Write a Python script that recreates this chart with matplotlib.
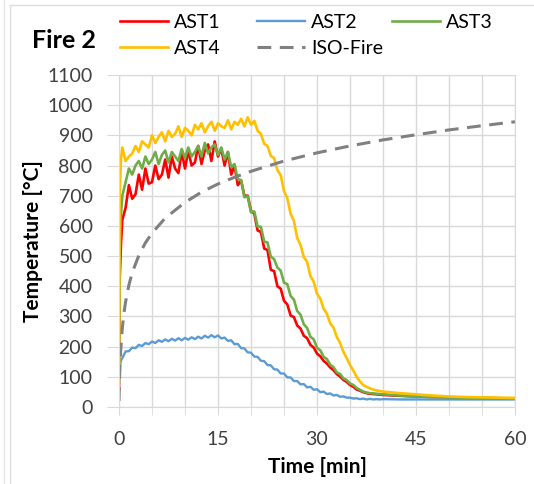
import matplotlib
matplotlib.use("Agg")
import matplotlib.pyplot as plt
from matplotlib.lines import Line2D

# ---------------- data ----------------
time_min = [0, 0.1, 0.3,
            0.5, 1, 1.5, 2, 2.5, 3, 3.5, 4, 4.5, 5, 5.5, 6, 6.5, 7, 7.5, 8, 8.5, 9, 9.5, 10,
            10.5, 11, 11.5, 12, 12.5, 13, 13.5, 14, 14.5, 15, 15.5, 16, 16.5, 17, 17.5, 18, 18.5, 19, 19.5, 20,
            20.5, 21, 21.5, 22, 22.5, 23, 23.5, 24, 24.5, 25, 25.5, 26, 26.5, 27, 27.5, 28, 28.5, 29, 29.5, 30,
            30.5, 31, 31.5, 32, 32.5, 33, 33.5, 34, 34.5, 35, 35.5, 36, 36.5, 37, 37.5, 38, 38.5, 39, 39.5, 40,
            42.5, 45, 47.5, 50, 52.5, 55, 57.5, 60]

ast1 = [60, 420, 540,
        620, 660, 735, 690, 705, 770, 720, 790, 740, 745, 800, 755, 770, 820, 760, 830, 790, 775, 845, 790,
        850, 800, 810, 865, 805, 850, 870, 815, 880, 830, 855, 800, 845, 770, 800, 735, 750, 700, 700, 650,
        640, 585, 580, 525, 520, 455, 450, 400, 392, 352, 340, 303, 298, 270, 260, 236, 228, 206, 197, 177,
        168, 153, 144, 131, 122, 109, 101, 90, 83, 73, 67, 58, 54, 49, 46, 44, 43, 42, 41, 40,
        37, 35, 33, 32, 31, 30, 29, 28]

ast2 = [100, 130, 155,
        162, 184, 185, 197, 195, 206, 202, 212, 208, 217, 212, 221, 216, 224, 218, 226, 220, 228, 221, 229,
        223, 231, 225, 233, 227, 236, 230, 238, 231, 237, 227, 230, 219, 221, 208, 209, 195, 194, 181, 180,
        167, 166, 153, 152, 139, 138, 125, 124, 111, 111, 98, 98, 86, 86, 75, 76, 65, 67, 57, 59,
        49, 51, 43, 45, 38, 40, 34, 35, 31, 31, 28, 29, 26, 28, 25, 27, 25, 26, 25, 26,
        25, 25, 25, 25, 25, 25, 25, 25]

ast3 = [80, 500, 640,
        700, 745, 790, 770, 800, 815, 790, 830, 805, 820, 845, 805, 835, 850, 810, 845, 830, 815, 855, 825,
        860, 830, 845, 865, 830, 875, 840, 860, 870, 835, 860, 820, 845, 795, 805, 755, 752, 695, 698, 645,
        648, 598, 597, 548, 545, 498, 490, 462, 452, 412, 407, 368, 356, 318, 306, 274, 262, 233, 224, 196,
        188, 166, 159, 140, 132, 115, 109, 95, 89, 78, 73, 63, 57, 51, 48, 46, 45, 44, 43, 42,
        38, 35, 33, 32, 31, 30, 29, 28]

ast4 = [90, 700, 820,
        860, 815, 830, 840, 865, 845, 880, 870, 860, 900, 875, 895, 910, 880, 915, 895, 905, 930, 895, 925,
        915, 900, 935, 920, 940, 910, 930, 945, 915, 940, 930, 925, 950, 920, 945, 935, 955, 930, 960, 935,
        948, 915, 905, 872, 865, 832, 825, 785, 768, 715, 692, 640, 617, 560, 537, 497, 481, 434, 415, 375,
        359, 326, 309, 277, 263, 232, 212, 183, 162, 139, 121, 100, 85, 73, 67, 62, 58, 55, 53, 51,
        46, 42, 38, 35, 33, 32, 31, 30]

iso_time = [0, 0.1, 0.25, 0.5, 0.75, 1, 1.5, 2, 3, 4, 5, 7, 10, 12.5, 15, 17.5, 20,
            25, 30, 35, 40, 45, 50, 55, 60]
iso_fire = [20, 108, 185, 261, 312, 349, 404, 445, 502, 544, 576, 626, 678, 712, 739, 761, 781,
            815, 842, 865, 885, 902, 918, 932, 945]

x_ticks = [0, 15, 30, 45, 60]
y_ticks = list(range(0, 1101, 100))

# ---------------- plot ----------------
plt.rcParams['font.family'] = ['Lato', 'DejaVu Sans']

fig = plt.figure(figsize=(5.34, 4.84), dpi=100)
ax = fig.add_axes([119/534, 1 - 407/484, (515 - 119)/534, (407 - 75)/484])

grid_c = '#d9d9d9'
ax.plot(time_min, ast1, color='#ff0000', lw=1.9, label='AST1')
ax.plot(time_min, ast2, color='#5b9bd5', lw=1.7, label='AST2')
ax.plot(time_min, ast3, color='#70ad47', lw=1.9, label='AST3')
ax.plot(time_min, ast4, color='#ffc000', lw=1.9, label='AST4')
ax.plot(iso_time, iso_fire, color='#808080', lw=2.2, dashes=(4.5, 2.8), label='ISO-Fire')

ax.set_xlim(0, 60)
ax.set_ylim(0, 1100)
ax.set_xticks(x_ticks)
ax.set_xticks(range(0, 61, 5), minor=True)
ax.set_yticks(y_ticks)
ax.grid(True, which='both', color=grid_c, lw=1)
ax.set_axisbelow(True)
for s in ax.spines.values():
    s.set_color(grid_c)
ax.tick_params(which='both', direction='out', length=7, color=grid_c, labelsize=14,
               labelcolor='#404040')
ax.tick_params(axis='y', length=9, pad=10)
ax.tick_params(axis='x', which='both', length=6, pad=11)

ax.set_xlabel('Time [min]', fontsize=15, fontweight='bold', labelpad=7)
ax.set_ylabel('Temperature [°C]', fontsize=15, fontweight='bold', labelpad=3)

fig.text(32/534, 1 - 40/484, 'Fire 2', fontsize=18, fontweight='bold', va='center', ha='left')

# legend, laid out by column like the original
h = {ln.get_label(): ln for ln in ax.get_lines()}
cols = [(['AST1', 'AST4'], 112), (['AST2', 'ISO-Fire'], 249), (['AST3'], 384)]
for names, xpix in cols:
    leg = fig.legend([h[n] for n in names], names, loc='upper left',
                     bbox_to_anchor=(xpix/534, 1 - 6/484), frameon=False, fontsize=14,
                     handlelength=2.5, handletextpad=0.3, labelspacing=0.45, borderaxespad=0)

# card frame
fig.add_artist(Line2D([10/534, 10/534], [0, 1 - 5/484], color='#dedede', lw=1))
fig.add_artist(Line2D([10/534, 1], [1 - 5/484, 1 - 5/484], color='#dedede', lw=1))
fig.add_artist(Line2D([3.5/534, 3.5/534], [0, 1], color='#e6e6e6', lw=1))

fig.savefig('out.png', dpi=100)
